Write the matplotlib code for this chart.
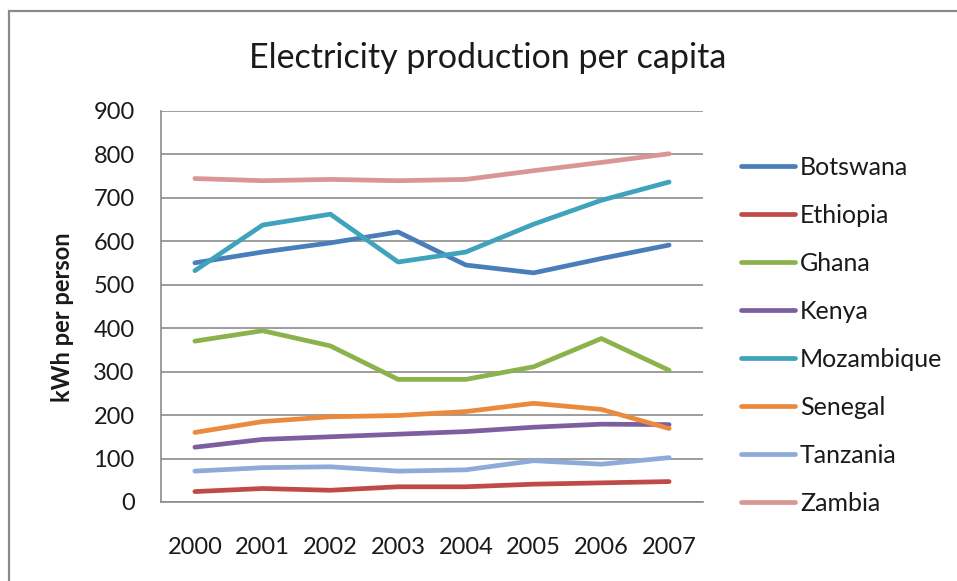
import matplotlib
matplotlib.use("Agg")
import matplotlib.pyplot as plt
from matplotlib.patches import Rectangle

years = ["2000", "2001", "2002", "2003", "2004", "2005", "2006", "2007"]

botswana   = [550, 575, 596, 621, 545, 527, 560, 591]
ethiopia   = [24, 31, 27, 35, 35, 41, 44, 47]
ghana      = [370, 394, 359, 282, 282, 311, 376, 303]
kenya      = [126, 144, 150, 156, 162, 172, 179, 178]
mozambique = [532, 637, 662, 552, 575, 639, 694, 736]
senegal    = [160, 185, 196, 199, 208, 227, 213, 169]
tanzania   = [71, 79, 81, 71, 74, 95, 87, 102]
zambia     = [744, 739, 742, 739, 742, 762, 781, 801]

series = [
    ("Botswana", botswana, "#4A7EBB"),
    ("Ethiopia", ethiopia, "#BE4B48"),
    ("Ghana", ghana, "#8CB34B"),
    ("Kenya", kenya, "#7D5FA0"),
    ("Mozambique", mozambique, "#3FA3BC"),
    ("Senegal", senegal, "#EB8A3C"),
    ("Tanzania", tanzania, "#8EAAD6"),
    ("Zambia", zambia, "#D99694"),
]

plt.rcParams["font.family"] = ["Lato", "DejaVu Sans"]
GRID = "#8C8C8C"

W, H = 957, 581
fig = plt.figure(figsize=(W / 100, H / 100), dpi=100)
fig.patch.set_facecolor("white")

# chart frame
fig.add_artist(Rectangle((9 / W, -0.1), 1.2, 1 - 11 / H + 0.1,
                         transform=fig.transFigure, fill=False,
                         edgecolor="#8A8A8A", linewidth=1.6))

left, right, top, bottom = 161, 703, 110.7, 502
ax = fig.add_axes([left / W, 1 - bottom / H, (right - left) / W, (bottom - top) / H])

x = list(range(len(years)))
for name, vals, col in series:
    ax.plot(x, vals, color=col, linewidth=3.4, label=name,
            solid_capstyle="round", solid_joinstyle="round")

ax.set_xlim(-0.5, len(years) - 0.5)
ax.set_ylim(0, 900)
ax.set_yticks(range(0, 901, 100))
ax.set_xticks(x)
ax.set_xticklabels(years)
ax.yaxis.grid(True, color=GRID, linewidth=1.2)
ax.set_axisbelow(True)
for s in ("top", "right"):
    ax.spines[s].set_visible(False)
for s in ("left", "bottom"):
    ax.spines[s].set_color(GRID)
    ax.spines[s].set_linewidth(1.2)
ax.tick_params(axis="both", length=0, labelsize=17, colors="#1A1A1A")
ax.tick_params(axis="y", pad=19)
ax.tick_params(axis="x", pad=25)

fig.text(488 / W, 1 - 58 / H, "Electricity production per capita",
         ha="center", va="center", fontsize=24.5, color="#1A1A1A")
fig.text(63 / W, 1 - 317 / H, "kWh per person", rotation=90,
         ha="center", va="center", fontsize=17, fontweight="bold", color="#1A1A1A")

ax.legend(loc="center left", bbox_to_anchor=(741 / W, 1 - 335.5 / H),
          bbox_transform=fig.transFigure, frameon=False, fontsize=18,
          handlelength=2.16, handletextpad=0.2, labelspacing=1.0,
          borderpad=0, borderaxespad=0, labelcolor="#1A1A1A")

fig.savefig("out.png", dpi=100, facecolor="white")
